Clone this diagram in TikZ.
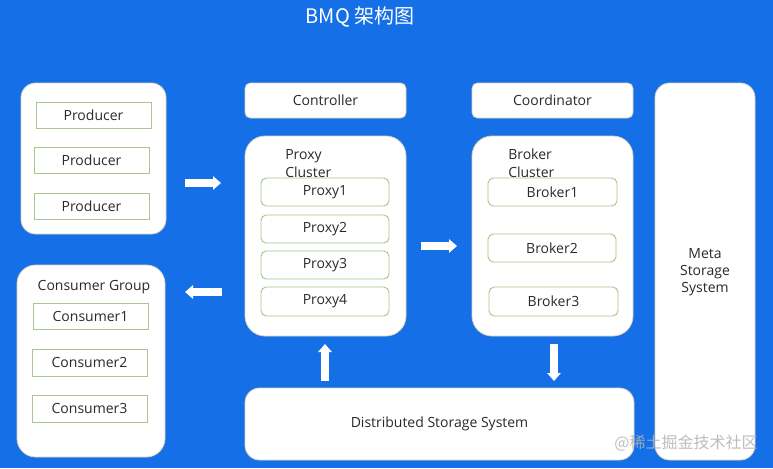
\documentclass[tikz,border=0pt]{standalone}
\usepackage{fontspec}
\setmainfont{Open Sans}
\newfontfamily\cjk{Noto Sans CJK SC}
\usetikzlibrary{fit,arrows.meta}
\definecolor{bgblue}{HTML}{1570E8}
\definecolor{inedge}{HTML}{A9C78C}
\definecolor{outedge}{HTML}{D9D2C0}
\definecolor{txt}{HTML}{2A2A2A}
\begin{document}
\begin{tikzpicture}[x=0.75pt,y=-0.75pt,
  every node/.style={font=\fontsize{10.5}{13.5}\selectfont, text=txt},
  lbl/.style={inner sep=0pt, align=left},
  outer/.style={draw=outedge, fill=white, line width=0.6pt, inner sep=0pt, rounded corners=11pt},
  topbox/.style={draw=outedge, fill=white, line width=0.6pt, inner sep=0pt, rounded corners=4pt},
  inbox/.style={draw=inedge, fill=white, line width=0.7pt, inner sep=0pt},
  inboxr/.style={inbox, rounded corners=4pt},
  blk/.style={draw=white, line width=6pt, -{Triangle[width=10pt,length=6pt]}}]
\fill[bgblue] (0,0) rectangle (773,468);
\node[text=white, font=\cjk\fontsize{15}{15}\selectfont] (title) at (360,17) {BMQ 架构图};

% producers
\node[outer, fit={(21,83)(166,234)}] (prodgrp) {};
\node[inbox, fit={(36,102)(151,128)}, label={[lbl]center:Producer}] (p1) {};
\node[inbox, fit={(34,147)(149,173)}, label={[lbl]center:Producer}] (p2) {};
\node[inbox, fit={(34,193)(149,219)}, label={[lbl]center:Producer}] (p3) {};

% consumers
\node[outer, rounded corners=14pt, fit={(17,265)(165,457)}] (congrp) {};
\node[lbl] (conlbl) at (94,287) {Consumer Group};
\node[inbox, fit={(33,303)(148,329)}, label={[lbl]center:Consumer1}] (c1) {};
\node[inbox, fit={(32,349)(147,376)}, label={[lbl]center:Consumer2}] (c2) {};
\node[inbox, fit={(32,395)(147,422)}, label={[lbl]center:Consumer3}] (c3) {};

% controller / coordinator
\node[topbox, fit={(245,83)(406,118)}, label={[lbl]center:Controller}] (ctrl) {};
\node[topbox, fit={(472,83)(633,118)}, label={[lbl]center:Coordinator}] (coord) {};

% proxy cluster
\node[outer, rounded corners=15pt, fit={(245,136)(406,336)}] (pxgrp) {};
\node[lbl, anchor=base west] (pxlbl) at (285,177) {Proxy\\Cluster};
\node[inboxr, fit={(261,178)(389,206)}, label={[lbl]center:Proxy1}] (px1) {};
\node[inboxr, fit={(261,215)(389,243)}, label={[lbl]center:Proxy2}] (px2) {};
\node[inboxr, fit={(261,251)(389,279)}, label={[lbl]center:Proxy3}] (px3) {};
\node[inboxr, fit={(261,287)(389,316)}, label={[lbl]center:Proxy4}] (px4) {};

% broker cluster
\node[outer, rounded corners=15pt, fit={(472,136)(633,336)}] (brgrp) {};
\node[lbl, anchor=base west] (brlbl) at (508,177) {Broker\\Cluster};
\node[inboxr, fit={(488,178)(617,206)}, label={[lbl]center:Broker1}] (b1) {};
\node[inboxr, fit={(488,234)(616,262)}, label={[lbl]center:Broker2}] (b2) {};
\node[inboxr, fit={(489,287)(618,316)}, label={[lbl]center:Broker3}] (b3) {};

% storage
\node[outer, fit={(245,388)(634,460)}, label={[lbl]center:Distributed Storage System}] (dss) {};
\node[outer, fit={(655,83)(755,460)}] (meta) {};
\node[lbl, align=center, font=\fontsize{10.5}{12.75}\selectfont] (metalbl) at (705,272) {Meta\\Storage\\System};

% arrows
\coordinate (a1s) at (185,183); \coordinate (a1e) at (221,183);
\coordinate (a2s) at (421,246); \coordinate (a2e) at (457,246);
\coordinate (a3s) at (222,292); \coordinate (a3e) at (185,292);
\coordinate (a4s) at (325,381); \coordinate (a4e) at (325,344);
\coordinate (a5s) at (554,344); \coordinate (a5e) at (554,381);
\draw[blk] (a1s) -- (a1e);
\draw[blk] (a2s) -- (a2e);
\draw[blk] (a3s) -- (a3e);
\draw[blk] (a4s) -- (a4e);
\draw[blk] (a5s) -- (a5e);

% watermark
\node[text=gray!60, opacity=0.85, font=\cjk\fontsize{12}{12}\selectfont] (wm) at (686,443) {@稀土掘金技术社区};
\end{tikzpicture}
\end{document}
